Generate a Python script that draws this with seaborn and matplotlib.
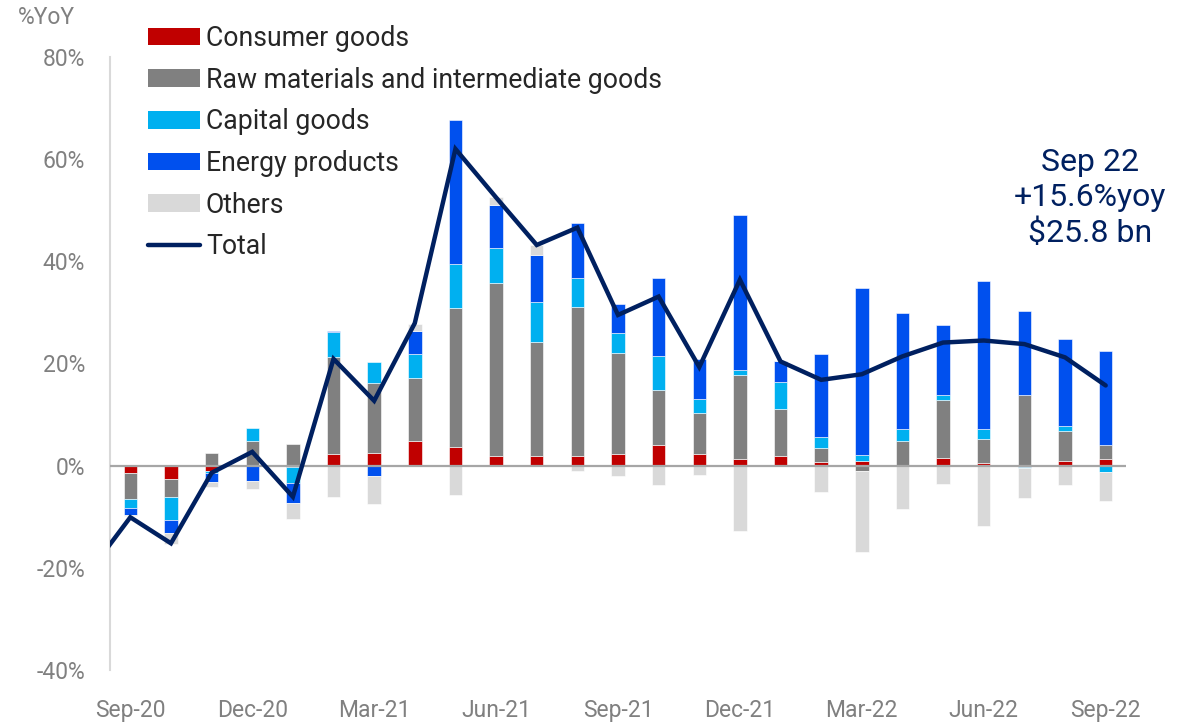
import numpy as np
import pandas as pd
import matplotlib
matplotlib.use("Agg")
import matplotlib.pyplot as plt
from matplotlib.patches import Patch
from matplotlib.lines import Line2D
import seaborn as sns

months = ['Sep-20', 'Oct-20', 'Nov-20', 'Dec-20', 'Jan-21', 'Feb-21', 'Mar-21', 'Apr-21',
          'May-21', 'Jun-21', 'Jul-21', 'Aug-21', 'Sep-21', 'Oct-21', 'Nov-21', 'Dec-21',
          'Jan-22', 'Feb-22', 'Mar-22', 'Apr-22', 'May-22', 'Jun-22', 'Jul-22', 'Aug-22', 'Sep-22']

consumer = [-1.4, -2.6, -1.0, 0.2, -0.3, 2.2, 2.5, 4.9, 3.6, 1.8, 1.8, 1.9, 2.3, 4.0, 2.2,
            1.4, 1.9, 0.7, 0.85, 0.0, 1.55, 0.5, -0.3, 1.0, 1.4]
raw = [-5.1, -3.45, 2.4, 4.55, 4.2, 19.1, 13.6, 12.3, 27.3, 34.0, 22.5, 29.2, 19.7, 10.8, 8.1,
       16.4, 9.1, 2.7, -1.1, 4.75, 11.4, 4.8, 13.85, 5.7, 2.6]
capital = [-1.8, -4.55, -0.4, 2.6, -3.1, 4.9, 4.1, 4.65, 8.6, 6.9, 7.7, 5.7, 3.95, 6.7, 2.8,
           0.9, 5.4, 2.2, 1.3, 2.4, 0.9, 1.8, -0.25, 1.1, -1.2]
energy = [-1.4, -2.6, -1.7, -3.0, -3.9, 0.2, -2.1, 4.55, 28.1, 8.4, 9.2, 10.7, 5.6, 15.2, 7.8,
          30.3, 4.0, 16.25, 32.7, 22.65, 13.7, 29.0, 16.4, 17.0, 18.4]
others = [-0.2, -2.1, -1.0, -1.55, -3.2, -6.05, -5.4, 1.3, -5.7, 1.4, 2.0, -1.1, -2.1, -3.7, -1.8,
          -12.7, 0.0, -5.1, -15.8, -8.4, -3.6, -11.8, -5.85, -3.7, -5.8]

# Total line includes Aug-20 (clipped at the left edge of the chart)
total_months = ['Aug-20'] + months
total = [-20.7, -10.1, -15.2, -1.4, 2.7, -6.1, 20.9, 12.7, 27.9, 62.0, 52.5, 43.2, 46.6, 29.5,
         33.1, 19.3, 36.4, 20.4, 16.8, 17.9, 21.4, 24.1, 24.5, 23.8, 21.2, 15.7]

series_names = ['Consumer goods', 'Raw materials and intermediate goods', 'Capital goods',
                'Energy products', 'Others']
series_vals = [consumer, raw, capital, energy, others]
series_colors = ['#C00000', '#808080', '#00B0F0', '#0050EE', '#D9D9D9']
line_color = '#002060'
tick_color = '#808080'

tick_months = months[::3]
y_ticks = [-40, -20, 0, 20, 40, 60, 80]

sns.set_theme(style='white')
plt.rcParams['font.family'] = ['Roboto', 'DejaVu Sans']

fig = plt.figure(figsize=(11.88, 7.25), dpi=100)
ax = fig.add_axes([110 / 1188, 55 / 725, 1016 / 1188, 613 / 725])

pos_base = np.zeros(len(months))
neg_base = np.zeros(len(months))
for name, vals, col in zip(series_names, series_vals, series_colors):
    v = np.array(vals, dtype=float)
    bottom = np.where(v >= 0, pos_base, neg_base)
    df = pd.DataFrame({'month': months, 'val': v})
    sns.barplot(data=df, x='month', y='val', order=months, color=col, width=0.33,
                bottom=bottom, errorbar=None, ax=ax, saturation=1,
                edgecolor='white', linewidth=0.4, zorder=2)
    pos_base = pos_base + np.where(v >= 0, v, 0)
    neg_base = neg_base + np.where(v < 0, v, 0)

ax.axhline(0, color='#A6A6A6', lw=1.6, zorder=3)

pos_of = {m: i for i, m in enumerate(months)}
line_x = [pos_of.get(m, -1) for m in total_months]
ldf = pd.DataFrame({'x': line_x, 'total': total})
sns.lineplot(data=ldf, x='x', y='total', color=line_color, lw=3.2, ax=ax, zorder=4,
             solid_joinstyle='miter')

ax.set_xlim(-0.5, 24.5)
ax.set_ylim(-40, 80)
ax.set_xticks([pos_of[m] for m in tick_months])
ax.set_xticklabels(tick_months)
ax.set_yticks(y_ticks)
ax.set_yticklabels([f'{t}%' for t in y_ticks])
ax.set_xlabel('')
ax.set_ylabel('')
ax.tick_params(axis='x', length=0, pad=21, labelsize=16.5, labelcolor=tick_color)
ax.tick_params(axis='y', length=0, pad=18, labelsize=16.5, labelcolor=tick_color)

for s in ['top', 'right', 'bottom']:
    ax.spines[s].set_visible(False)
ax.spines['left'].set_color('#D9D9D9')
ax.spines['left'].set_linewidth(1.5)

handles = [Patch(facecolor=c, edgecolor='none') for c in series_colors]
handles.append(Line2D([0], [0], color=line_color, lw=3.2))
labels = series_names + ['Total']
leg = fig.legend(handles, labels, loc='upper left', bbox_to_anchor=(148 / 1188, 1 - 25 / 725),
                 frameon=False, fontsize=19.2, handlelength=1.95, handleheight=0.64,
                 handletextpad=0.22, labelspacing=0.55, borderaxespad=0, borderpad=0)

fig.text(18 / 1188, 1 - 18 / 725, '%YoY', color=tick_color, fontsize=16.5, va='center', ha='left')
fig.text(1090 / 1188, 1 - 198 / 725, 'Sep 22\n+15.6%yoy\n$25.8 bn', color=line_color,
         fontsize=23, ha='center', va='center', linespacing=1.25)

fig.savefig('out.png', dpi=100)
